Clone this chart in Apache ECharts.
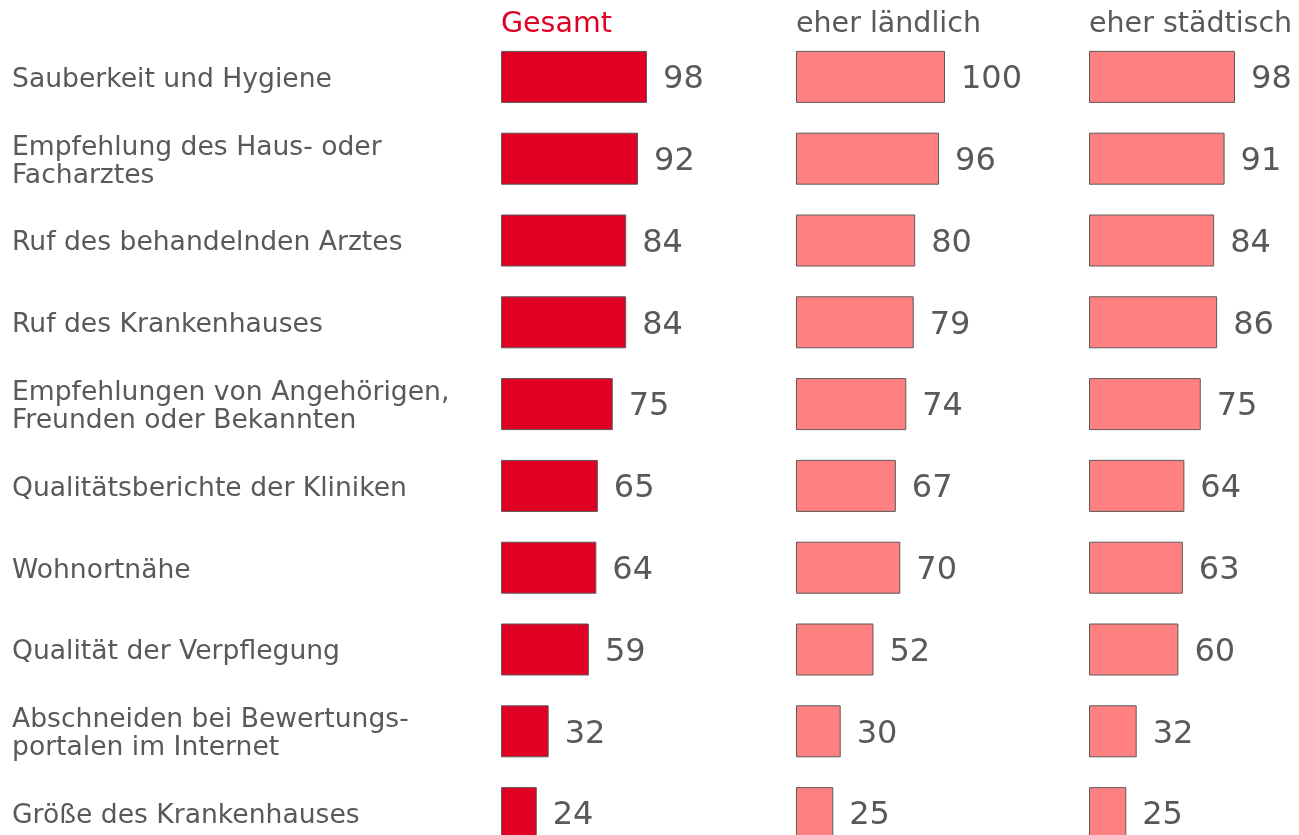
<!DOCTYPE html>
<html>
<head>
<meta charset="utf-8">
<title>Krankenhauswahl</title>
<script src="https://cdn.jsdelivr.net/npm/echarts@6/dist/echarts.min.js"></script>
<style>
  html, body { margin: 0; padding: 0; background: #fff; }
  #chart { width: 1299px; height: 835px; }
</style>
</head>
<body>
<div id="chart"></div>
<script>
var categories = [
  'Sauberkeit und Hygiene',
  'Empfehlung des Haus- oder\nFacharztes',
  'Ruf des behandelnden Arztes',
  'Ruf des Krankenhauses',
  'Empfehlungen von Angehörigen,\nFreunden oder Bekannten',
  'Qualitätsberichte der Kliniken',
  'Wohnortnähe',
  'Qualität der Verpflegung',
  'Abschneiden bei Bewertungs-\nportalen im Internet',
  'Größe des Krankenhauses'
];
var groups = ['Gesamt', 'eher ländlich', 'eher städtisch'];
var gesamt = [98, 92, 84, 84, 75, 65, 64, 59, 32, 24];
var laendlich = [100, 96, 80, 79, 74, 67, 70, 52, 30, 25];
var staedtisch = [98, 91, 84, 86, 75, 64, 63, 60, 32, 25];

var values = [gesamt, laendlich, staedtisch];
var panelLeft = [501, 796, 1089];
var barColors = ['#E00024', '#FF8080', '#FF8080'];
var titleColors = ['#E00024', '#595959', '#595959'];
var textColor = '#595959';
var font = '"DejaVu Sans", Verdana, sans-serif';

var chart = echarts.init(document.getElementById('chart'));

var grids = [], xAxes = [], yAxes = [], series = [], titles = [];
for (var i = 0; i < 3; i++) {
  grids.push({
    left: panelLeft[i], top: 36, width: 149, height: 818,
    outerBoundsMode: 'none', containLabel: false
  });
  xAxes.push({
    gridIndex: i, type: 'value', min: 0, max: 100, show: false
  });
  yAxes.push({
    gridIndex: i,
    type: 'category',
    data: categories,
    inverse: true,
    show: false
  });
  series.push({
    type: 'bar',
    xAxisIndex: i,
    yAxisIndex: i,
    data: values[i],
    barWidth: 52,
    itemStyle: { color: barColors[i], borderColor: '#5a5a5a', borderWidth: 1 },
    label: {
      show: true,
      position: 'right',
      distance: 16,
      offset: [0, 3],
      fontFamily: font,
      fontSize: 32,
      color: textColor
    },
    silent: true,
    animation: false
  });
  titles.push({
    text: groups[i],
    left: panelLeft[i],
    top: 10,
    padding: 0,
    textStyle: { fontFamily: font, fontSize: 28.5, fontWeight: 'normal', color: titleColors[i] }
  });
}

// category labels on their own grid, a few pixels lower than the bars
grids.push({
  left: panelLeft[0], top: 39, width: 149, height: 818,
  outerBoundsMode: 'none', containLabel: false
});
xAxes.push({ gridIndex: 3, type: 'value', min: 0, max: 100, show: false });
yAxes.push({
  gridIndex: 3,
  type: 'category',
  data: categories,
  inverse: true,
  axisLine: { show: false },
  axisTick: { show: false },
  splitLine: { show: false },
  axisLabel: {
    align: 'left',
    margin: panelLeft[0] - 12,
    fontFamily: font,
    fontSize: 26.6,
    lineHeight: 28,
    color: textColor
  }
});

chart.setOption({
  backgroundColor: '#ffffff',
  animation: false,
  title: titles,
  grid: grids,
  xAxis: xAxes,
  yAxis: yAxes,
  series: series
});
</script>
</body>
</html>
